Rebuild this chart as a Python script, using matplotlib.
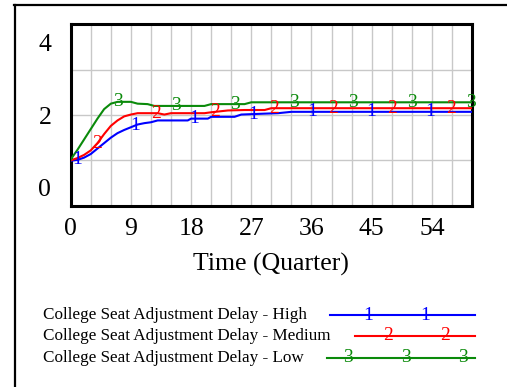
import numpy as np
import matplotlib
matplotlib.use("Agg")
import matplotlib.pyplot as plt
from matplotlib.lines import Line2D
from matplotlib.transforms import ScaledTranslation

# Données
t_high = [0, 1, 2, 3, 4, 5, 6, 7, 8, 9, 10, 11, 12, 13, 17.5, 18, 20.5, 21, 24.5, 25.5, 29, 31, 33, 60]
v_high = [0.99, 1.01, 1.06, 1.14, 1.26, 1.38, 1.5, 1.6, 1.67, 1.73, 1.79, 1.82, 1.84, 1.88, 1.88, 1.92,
          1.92, 1.96, 1.96, 2.01, 2.03, 2.04, 2.07, 2.07]
t_med = [0, 1, 2, 3, 4, 5, 6, 7, 8, 9, 10, 13, 14, 15, 20, 21, 23.5, 26, 29, 30, 60]
v_med = [1.0, 1.05, 1.12, 1.22, 1.38, 1.58, 1.76, 1.88, 1.97, 2.01, 2.04, 2.04, 2.01, 2.04, 2.04, 2.06,
         2.1, 2.11, 2.11, 2.15, 2.15]
t_low = [0, 1, 2, 3, 4, 5, 6, 7, 9, 10, 11.5, 12.5, 20, 21, 26, 27, 60]
v_low = [1.02, 1.23, 1.46, 1.69, 1.92, 2.13, 2.25, 2.29, 2.29, 2.25, 2.24, 2.2, 2.2, 2.24, 2.24, 2.28, 2.28]

series_names = ["College Seat Adjustment Delay - High",
                "College Seat Adjustment Delay - Medium",
                "College Seat Adjustment Delay - Low"]
series_marks = ["1", "2", "3"]
series_colors = ["#0000ff", "#ff0000", "#0a8a0a"]
x_ticks = [0, 9, 18, 27, 36, 45, 54]
y_ticks = [0, 2, 4]

serif = "Liberation Serif"
W, H = 507, 387
fig = plt.figure(figsize=(W / 100, H / 100), dpi=100)
ax = fig.add_axes([70.7 / W, 1 - 205.7 / H, (472 - 70.7) / W, (205.7 - 24.3) / H])

data = [(t_high, v_high), (t_med, v_med), (t_low, v_low)]
mark_start = [0.9, 4.0, 7.0]
for (t, v), mk, c, x0 in zip(data, series_marks, series_colors, mark_start):
    ax.plot(t, v, color=c, lw=1.5, zorder=3)
    for xm in np.arange(x0, 60, 8.8):
        ym = np.interp(xm, t, v)
        ax.text(xm, ym, mk, color=c, fontsize=14, family=serif,
                ha="center", va="center", zorder=4)

ax.set_xlim(0, 60)
ax.set_ylim(0, 4)
ax.set_xticks(x_ticks)
ax.set_xticks(np.arange(0, 61, 3), minor=True)
ax.set_yticks(y_ticks)
ax.set_yticks([1, 3], minor=True)
ax.set_xticklabels([str(x) for x in x_ticks], family=serif, fontsize=18.5)
ax.set_yticklabels([str(y) for y in y_ticks], family=serif, fontsize=18.5)
ax.tick_params(which="both", length=0)
ax.tick_params(axis="x", pad=9)
ax.tick_params(axis="y", pad=14)
ax.grid(True, which="both", color="#c8c8c8", lw=1)
ax.set_axisbelow(True)
for s in ax.spines.values():
    s.set_linewidth(2.2)

# décalage des étiquettes Y vers l'intérieur (style Vensim)
offs = [0.18, 0.0, -0.18]
for lab, dy in zip(ax.get_yticklabels(), offs):
    lab.set_transform(lab.get_transform() + ScaledTranslation(0, dy, fig.dpi_scale_trans))

ax.set_xlabel("Time (Quarter)", family=serif, fontsize=18.5, labelpad=9)

# cadre extérieur
fig.add_artist(Line2D([14 / W, 1], [1 - 5 / H, 1 - 5 / H], color="black", lw=1.6))
fig.add_artist(Line2D([15 / W, 15 / W], [0, 1 - 5 / H], color="black", lw=1.6))

# légende
rows_y = [315, 336, 357.5]
line_x0 = [330, 355, 327]
leg_marks = [[368, 425], [388, 445], [348, 406, 463]]
for name, mk, c, yy, lx, mxs in zip(series_names, series_marks, series_colors, rows_y, line_x0, leg_marks):
    fy = 1 - yy / H
    fig.text(43 / W, fy, name, family=serif, fontsize=12.3, ha="left", va="center")
    fig.add_artist(Line2D([lx / W, 475 / W], [fy, fy], color=c, lw=1.5))
    for mx in mxs:
        fig.text(mx / W, fy, mk, color=c, family=serif, fontsize=14, ha="center", va="center")

fig.savefig("out.png", dpi=100)
